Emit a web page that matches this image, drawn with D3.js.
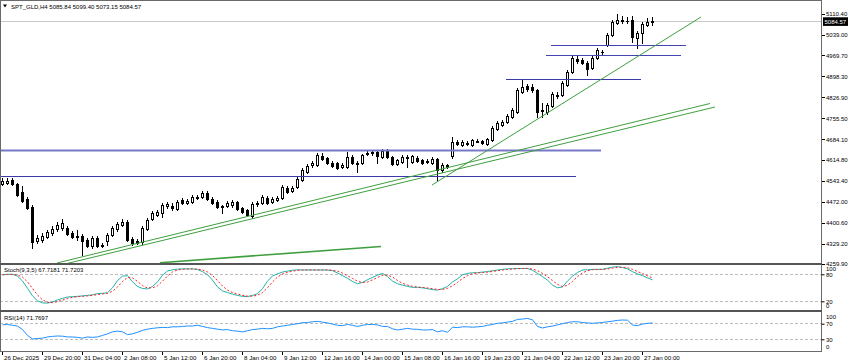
<!DOCTYPE html>
<html><head><meta charset="utf-8">
<script src="https://cdn.jsdelivr.net/npm/d3@7"></script>
<style>
html,body{margin:0;padding:0;background:#fff;}
svg{display:block;}
text{font-family:"Liberation Sans",Arial,sans-serif;}
</style>
</head><body>
<svg id="c" width="850" height="364"></svg>
<script>
const symbol = "SPT_GLD,H4";
const open = [
4532.0,4535.4,4545.7,4532.0,4504.8,4481.0,4453.8,4338.2,4341.6,4351.8,
4365.4,4379.0,4382.4,4382.4,4365.4,4351.8,4355.2,4341.6,4321.3,4348.4,
4321.3,4338.2,4358.6,4379.0,4392.6,4402.8,4345.0,4338.2,4334.9,4379.0,
4413.0,4426.6,4433.4,4457.2,4457.2,4447.0,4477.6,4467.4,4470.8,4484.4,
4487.8,4501.4,4481.0,4470.8,4453.8,4457.2,4460.6,4470.8,4450.4,4443.6,
4423.2,4464.0,4467.4,4484.4,4470.8,4477.6,4484.4,4518.4,4508.2,4521.8,
4545.7,4572.9,4596.7,4596.7,4627.3,4620.5,4603.5,4603.5,4589.9,4589.9,
4623.9,4603.5,4603.5,4634.1,4637.5,4641.0,4623.9,4644.4,4623.9,4600.1,
4606.9,4620.5,4606.9,4620.5,4613.7,4606.9,4603.5,4617.1,4579.7,4596.7,
4627.3,4675.0,4664.7,4668.2,4664.7,4678.3,4678.3,4668.2,4681.8,4719.2,
4732.8,4743.0,4760.4,4777.0,4845.0,4865.4,4862.0,4851.8,4780.4,4777.0,
4797.4,4834.8,4834.8,4868.8,4913.1,4957.3,4953.9,4943.7,4926.7,4960.7,
4981.1,5004.9,5039.0,5079.8,5086.6,5086.6,5090.0,5028.8,5045.8,5073.0,
5085.84];
const high = [
4552.5,4552.5,4552.5,4535.4,4525.2,4487.8,4460.6,4358.6,4365.4,4375.6,
4389.2,4402.8,4413.0,4389.2,4372.2,4375.6,4362.0,4348.4,4355.2,4355.2,
4331.5,4365.4,4389.2,4402.8,4413.0,4409.6,4351.8,4345.0,4389.2,4416.4,
4440.2,4443.6,4467.4,4470.8,4467.4,4477.6,4484.4,4481.0,4494.6,4494.6,
4508.2,4508.2,4487.8,4477.6,4460.6,4474.2,4477.6,4474.2,4453.8,4447.0,
4470.8,4474.2,4494.6,4491.2,4487.8,4491.2,4528.6,4525.2,4525.2,4555.9,
4586.5,4600.1,4610.3,4637.5,4637.5,4623.9,4610.3,4606.9,4603.5,4641.0,
4630.7,4610.3,4634.1,4644.4,4647.8,4647.8,4651.2,4651.2,4627.3,4617.1,
4630.7,4630.7,4630.7,4627.3,4617.1,4617.1,4623.9,4620.5,4603.5,4600.1,
4692.0,4681.8,4681.8,4678.3,4685.2,4685.2,4681.8,4688.6,4729.5,4746.4,
4749.8,4770.6,4790.6,4858.6,4889.3,4872.3,4872.3,4855.2,4807.6,4807.6,
4845.0,4845.0,4882.4,4919.9,4967.5,4967.5,4960.7,4950.5,4967.5,4994.7,
4987.9,5045.8,5090.0,5110.4,5103.6,5100.2,5103.6,5052.6,5083.2,5096.8,
5099.40];
const low = [
4528.6,4532.0,4528.6,4491.2,4470.8,4447.0,4314.5,4331.5,4334.9,4348.4,
4358.6,4372.2,4375.6,4358.6,4348.4,4341.6,4290.5,4317.9,4314.5,4317.9,
4317.9,4324.7,4355.2,4372.2,4389.2,4338.2,4324.7,4328.1,4328.1,4375.6,
4409.6,4423.2,4419.8,4450.4,4443.6,4443.6,4464.0,4464.0,4467.4,4481.0,
4484.4,4477.6,4464.0,4450.4,4433.4,4453.8,4453.8,4443.6,4433.4,4423.2,
4416.4,4457.2,4464.0,4464.0,4467.4,4474.2,4481.0,4501.4,4504.8,4518.4,
4542.3,4569.5,4589.9,4593.3,4613.7,4600.1,4589.9,4583.1,4586.5,4586.5,
4600.1,4572.9,4600.1,4630.7,4630.7,4603.5,4620.5,4620.5,4596.7,4596.7,
4603.5,4589.9,4603.5,4606.9,4600.1,4603.5,4600.1,4545.7,4572.9,4586.5,
4620.5,4664.7,4661.3,4664.7,4661.3,4675.0,4668.2,4664.7,4678.3,4715.8,
4729.5,4739.6,4757.0,4773.6,4841.6,4848.4,4845.0,4760.4,4760.4,4770.2,
4794.0,4824.6,4831.4,4865.4,4909.7,4943.7,4940.3,4902.9,4923.3,4957.3,
4970.9,5001.5,5035.6,5076.4,5079.8,5079.8,5015.1,4994.7,5011.7,5069.6,
5073.15];
const close = [
4542.3,4542.3,4532.0,4494.6,4474.2,4450.4,4334.9,4348.4,4355.2,4368.8,
4379.0,4392.6,4399.4,4362.0,4351.8,4355.2,4338.2,4321.3,4348.4,4321.3,
4324.7,4358.6,4382.4,4396.0,4402.8,4341.6,4331.5,4331.5,4382.4,4409.6,
4433.4,4436.8,4460.6,4464.0,4450.4,4470.8,4467.4,4474.2,4487.8,4487.8,
4501.4,4481.0,4467.4,4453.8,4457.2,4467.4,4470.8,4447.0,4436.8,4426.6,
4464.0,4467.4,4487.8,4467.4,4481.0,4484.4,4521.8,4504.8,4518.4,4549.1,
4579.7,4593.3,4603.5,4630.7,4617.1,4603.5,4593.3,4586.5,4596.7,4623.9,
4603.5,4600.1,4630.7,4637.5,4641.0,4627.3,4644.4,4623.9,4600.1,4613.7,
4623.9,4623.9,4627.3,4610.3,4603.5,4610.3,4617.1,4579.7,4596.7,4589.9,
4675.0,4668.2,4675.0,4671.6,4681.8,4676.6,4671.6,4685.2,4722.6,4739.6,
4743.0,4763.7,4783.8,4851.8,4862.0,4855.2,4851.8,4777.0,4783.8,4800.8,
4838.2,4833.1,4875.6,4913.1,4960.7,4950.5,4943.7,4923.3,4960.7,4987.9,
4982.8,5039.0,5083.2,5090.0,5088.3,5084.9,5032.2,5045.8,5076.4,5083.2,
5084.57];
const stochK = [
79,80,80,76,65,49,32,21,16.5,16,
18.5,23,26.5,29.5,30.3,31,32,33,34.5,37,
37.7,39,50,66,76,77,63,53,48.5,47.5,
53,63,78,87.5,90,91.5,92,92,92,90.5,
86,79,67,52,43,39.5,36,33,31,30.5,
33,37,48,65,76,81,85,87,89,90,
89.6,89.6,89.6,89.6,89.6,89.6,88,83,77,71,
64,59,62,68,73,78,82,75,65,59,
56,53,51,51,50,48,46,45,48,53,
63,70,79,82,83.5,83.5,85,86,88,89.5,
91,92,92.5,93,93,93,89,82,75,67,
56,50,52,65,76,84,89.6,90,91,91,
91,93.5,96,97,95,92,86,81,77,72,
67.7181];
const stochD = [
79,79.5,79.7,78.7,73.7,63.3,48.7,34,23.2,17.8,
17,19.2,22.7,26.3,28.8,30.3,31.1,32,33.2,34.8,
36.4,37.9,42.2,51.7,64,73,72,64.3,54.8,49.7,
49.7,54.5,64.7,76.2,85.2,89.7,91.2,91.8,92,91.5,
89.5,85.2,77.3,66,54,44.8,39.5,36.2,33.3,31.5,
31.5,33.5,39.3,50,63,74,80.7,84.3,87,88.7,
89.5,89.7,89.6,89.6,89.6,89.6,89.1,86.9,82.7,77,
70.7,64.7,61.7,63,67.7,73,77.7,78.3,74,66.3,
60,56,53.3,51.7,50.7,49.7,48,46.3,46.3,48.7,
54.7,62,70.7,77,81.5,83,84,84.8,86.3,87.8,
89.5,90.8,91.8,92.5,92.8,93,91.7,88,82,74.7,
66,57.7,52.7,55.7,64.3,75,83.2,87.9,90.2,90.7,
91,91.8,93.5,95.5,96,94.7,91,86.3,81.3,76.7,
71.7203];
const rsi = [
67,68,66,64,55,40,31,32,33,36,
37.5,38.5,38,36,36,35,33,36,35,36,
40,44,49,51,49,42,44,48,53,56,
58,59.5,60.5,60,62,62,63,64,64,66,
63,60,58,56,54,55,52,51,49,52,
55,56,58,57,58,62,64,66,68,70,
72.6,73,75,76,74,72,69,66,65,68,
66,63,66,68,68,67,63,63,57,54,
56,58,56,55.6,54,54,55,49,52,48,
61,60,62,62,61,62,63,66,68,71,
72,74,76,81,82,83.5,80,63,59,62,
64,67,70,73,75,75,73,72,71,72,
73,75,76.5,78.5,79.5,79,66.7,65,69,71,
71.7697];
const dateLabels = ["26 Dec 2025","29 Dec 20:00","31 Dec 04:00","2 Jan 08:00","5 Jan 12:00","6 Jan 20:00","8 Jan 04:00","9 Jan 12:00","12 Jan 16:00","14 Jan 00:00","15 Jan 08:00","16 Jan 16:00","19 Jan 23:00","21 Jan 04:00","22 Jan 12:00","23 Jan 20:00","27 Jan 00:00"];
const dateIdx = [0,8,16,24,32,40,48,56,64,72,80,88,96,104,112,120,128];
const priceTicks = [5110.40,5039.00,4969.70,4898.30,4826.90,4755.50,4684.10,4614.80,4543.40,4472.00,4400.60,4329.20,4259.90];
const stochTicks = [0,20,80,100];
const stochLevels = [20,80];
const rsiTicks = [0,30,70,100];
const rsiLevels = [30,70];
// horizontal drawing objects: price level, from bar, to bar
const hLevel = [4555.9,4647.7,4888.3,4969.9,5004.9];
const hFrom = [-0.5,-0.5,100.7,108.7,109.7];
const hTo = [114.7,119.7,127.7,135.7,136.7];
// trendlines: [bar, price] start / end
const tFrom = [[85.9,4528.6],[10.9,4263.3],[12.5,4259.9],[31.5,4264.3]];
const tTo = [[139.7,5100.2],[141.5,4805.9],[142.5,4794.0],[75.7,4319.4]];

const svg = d3.select("#c");
const FS = 6;
const x = d3.scaleLinear().domain([0,130]).range([2.5,652.5]);
const y = d3.scaleLinear().domain([4259.9,5110.4]).range([264,14]);
const yS = d3.scaleLinear().domain([0,100]).range([310.3,265.3]);
const yR = d3.scaleLinear().domain([0,100]).range([351,312]);
const px = v => Math.round(v - 0.5) + 0.5;

svg.append("rect").attr("width",850).attr("height",364).attr("fill","#fff");
const defs = svg.append("defs");
defs.append("clipPath").attr("id","cm").append("rect").attr("x",1).attr("y",1).attr("width",820).attr("height",262);
defs.append("clipPath").attr("id","cs").append("rect").attr("x",1).attr("y",265).attr("width",820).attr("height",45);
defs.append("clipPath").attr("id","cr").append("rect").attr("x",1).attr("y",312).attr("width",820).attr("height",39);

// main panel
const gm = svg.append("g").attr("clip-path","url(#cm)");
const last = close.length - 1;
gm.append("line").attr("x1",0).attr("x2",822).attr("y1",px(y(close[last]))).attr("y2",px(y(close[last])))
  .attr("stroke","#c8c8c8").attr("stroke-width",1).attr("shape-rendering","crispEdges");

const idx = d3.range(open.length);
const gc = gm.append("g").attr("shape-rendering","crispEdges");
gc.selectAll("line.w").data(idx).join("line").attr("class","w")
  .attr("x1",i=>x(i)).attr("x2",i=>x(i))
  .attr("y1",i=>Math.round(y(high[i]))).attr("y2",i=>Math.round(y(low[i]))+1)
  .attr("stroke","#000");
idx.forEach(i=>{
  const o=open[i], c=close[i];
  const top=Math.round(y(Math.max(o,c))), bot=Math.round(y(Math.min(o,c)));
  if (bot-top < 1) {
    gc.append("line").attr("x1",x(i)-1.5).attr("x2",x(i)+1.5).attr("y1",top+0.5).attr("y2",top+0.5).attr("stroke","#000");
  } else {
    gc.append("rect").attr("x",x(i)-1).attr("y",top+0.5).attr("width",2).attr("height",bot-top)
      .attr("fill", c>=o ? "#fff" : "#000").attr("stroke","#000");
  }
});

// horizontal objects
const hStyle = [["#3a3aa6",1],["#7878c8",2],["#3a3aa6",1],["#4444b0",1],["#4444b0",1]];
hLevel.forEach((p,k)=>{
  gm.append("line").attr("x1",x(hFrom[k])).attr("x2",x(hTo[k]))
    .attr("y1",px(y(p))).attr("y2",px(y(p)))
    .attr("stroke",hStyle[k][0]).attr("stroke-width",hStyle[k][1]);
});
// trendlines
const tW = [1,1,1,1.6];
tFrom.forEach((a,k)=>{
  const b=tTo[k];
  gm.append("line").attr("x1",x(a[0])).attr("y1",y(a[1])).attr("x2",x(b[0])).attr("y2",y(b[1]))
    .attr("stroke","#3f9f3f").attr("stroke-width",tW[k]);
});

// stochastic
const gs = svg.append("g").attr("clip-path","url(#cs)");
stochLevels.forEach(v=>gs.append("line").attr("x1",0).attr("x2",822).attr("y1",px(yS(v))).attr("y2",px(yS(v)))
  .attr("stroke","#bdbdbd").attr("stroke-dasharray","3,2").attr("shape-rendering","crispEdges"));
const lineS = d3.line().x((d,i)=>x(i)).y(d=>yS(d));
gs.append("path").datum(stochK).attr("d",lineS).attr("fill","none").attr("stroke","#20b2aa").attr("stroke-width",1);
gs.append("path").datum(stochD).attr("d",lineS).attr("fill","none").attr("stroke","#ff2020").attr("stroke-width",1).attr("stroke-dasharray","2,2");

// RSI
const gr = svg.append("g").attr("clip-path","url(#cr)");
rsiLevels.forEach(v=>gr.append("line").attr("x1",0).attr("x2",822).attr("y1",px(yR(v))).attr("y2",px(yR(v)))
  .attr("stroke","#bdbdbd").attr("stroke-dasharray","3,2").attr("shape-rendering","crispEdges"));
const lineR = d3.line().x((d,i)=>x(i)).y(d=>yR(d));
gr.append("path").datum(rsi).attr("d",lineR).attr("fill","none").attr("stroke","#1e90ff").attr("stroke-width",1);

// frames and separators
svg.append("rect").attr("x",0.5).attr("y",0.5).attr("width",821).attr("height",351)
  .attr("fill","none").attr("stroke","#6a6a6a").attr("shape-rendering","crispEdges");
svg.append("rect").attr("x",0).attr("y",263).attr("width",822).attr("height",2).attr("fill","#555");
svg.append("rect").attr("x",0).attr("y",310).attr("width",822).attr("height",2).attr("fill","#555");

// axes
function styleAxis(g){
  g.select(".domain").remove();
  g.selectAll("line").attr("stroke","#000");
  g.selectAll("text").attr("font-size",FS).attr("fill","#000").attr("font-family","'Liberation Sans',Arial,sans-serif");
}
const ay = svg.append("g").attr("transform","translate(821.5,0)").attr("shape-rendering","crispEdges")
  .call(d3.axisRight(y).tickValues(priceTicks).tickSize(3).tickPadding(1.5).tickFormat(d3.format(".2f")));
styleAxis(ay);

const as = svg.append("g").attr("transform","translate(821.5,0)")
  .call(d3.axisRight(yS).tickValues(stochTicks).tickSize(3).tickPadding(1.5).tickFormat(d3.format("d")));
styleAxis(as);
as.selectAll(".tick").filter(d=>d===100).select("text").attr("y",3.5);
as.selectAll(".tick").filter(d=>d===0).select("text").attr("y",-4.5);
as.selectAll(".tick").filter(d=>d===100||d===0).select("line").remove();

const ar = svg.append("g").attr("transform","translate(821.5,0)")
  .call(d3.axisRight(yR).tickValues(rsiTicks).tickSize(3).tickPadding(1.5).tickFormat(d3.format("d")));
styleAxis(ar);
ar.selectAll(".tick").filter(d=>d===100).select("text").attr("y",4.5);
ar.selectAll(".tick").filter(d=>d===0).select("text").attr("y",-4);
ar.selectAll(".tick").filter(d=>d===100||d===0).select("line").remove();

const ax = svg.append("g").attr("transform","translate(-0.5,351.5)")
  .call(d3.axisBottom(x).tickValues(dateIdx).tickSize(3).tickPadding(1.5).tickFormat((d,k)=>dateLabels[k]));
styleAxis(ax);
ax.selectAll("text").attr("text-anchor","start").attr("x",1.5).attr("font-size",6.2);
ax.selectAll("line").attr("shape-rendering","crispEdges");

// current price box
const cy = y(close[last]);
svg.append("rect").attr("x",823).attr("y",cy-4.3).attr("width",25).attr("height",8.6).attr("fill","#000");
svg.append("text").attr("x",824.5).attr("y",cy+2.1).attr("font-size",FS).attr("fill","#fff").text(d3.format(".2f")(close[last]));

// titles
svg.append("path").attr("d","M3,4.5 L7,4.5 L5,7.5 Z").attr("fill","#000");
svg.append("text").attr("x",11).attr("y",8.6).attr("font-size",FS).attr("fill","#000")
  .text(`${symbol}  ${open[last].toFixed(2)} ${high[last].toFixed(2)} ${low[last].toFixed(2)} ${close[last].toFixed(2)}`);
svg.append("text").attr("x",4).attr("y",272).attr("font-size",FS).attr("fill","#000")
  .text(`Stoch(9,3,5) ${stochK[last].toFixed(4)} ${stochD[last].toFixed(4)}`);
svg.append("text").attr("x",4).attr("y",319.5).attr("font-size",FS).attr("fill","#000")
  .text(`RSI(14) ${rsi[last].toFixed(4)}`);
</script>
</body></html>
